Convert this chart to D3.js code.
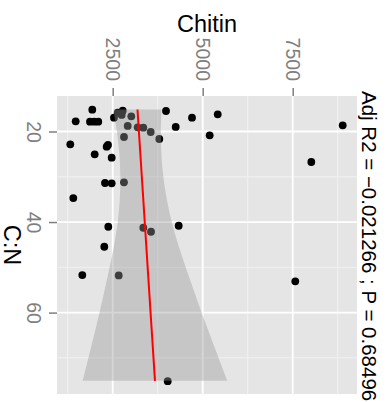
<!DOCTYPE html>
<html>
<head>
<meta charset="utf-8">
<script src="https://cdn.jsdelivr.net/npm/d3@7"></script>
<style>
body { margin: 0; background: #fff; }
svg text { font-family: "Liberation Sans", Arial, Helvetica, sans-serif; }
</style>
</head>
<body>
<div id="graph"></div>
<script>
// data
var pointChitin = [1933, 1472, 1869, 1989, 2100, 2536, 2639, 2778, 2750, 3017,
	2917, 3194, 3350, 3556, 3794, 3981, 4250, 2814, 1322, 2333,
	2369, 2000, 2472, 2286, 2472, 2814, 4703, 5417, 5194, 8017,
	8889, 1406, 2378, 3350, 3564, 2267, 1656, 2667, 4333, 7572, 4028];
var pointCN = [15.18, 17.75, 17.83, 17.83, 17.83, 16.95, 15.85, 15.40, 16.35, 16.64,
	18.78, 19.07, 19.16, 20.11, 21.66, 15.47, 19.00, 21.22, 22.83, 23.36,
	22.98, 25.04, 25.79, 31.38, 31.45, 31.23, 16.95, 16.20, 20.84, 26.74,
	18.63, 34.70, 41.04, 41.26, 42.14, 45.46, 51.71, 51.78, 40.82, 53.10, 75.14];

// fitted line and its confidence band
var fitCN      = [15.14, 20, 25, 30, 35, 40, 45, 50, 55, 60, 65, 70, 75.07];
var fitChitin  = [3189, 3228, 3269, 3309, 3350, 3390, 3431, 3471, 3512, 3552, 3593, 3633, 3675];
var fitLower   = [2522, 2617, 2686, 2712, 2697, 2640, 2542, 2415, 2276, 2135, 1982, 1827, 1667];
var fitUpper   = [3856, 3839, 3852, 3906, 4003, 4140, 4320, 4527, 4748, 4969, 5204, 5439, 5683];

var chitinTicks = [2500, 5000, 7500];
var chitinMinor = [1250, 3750, 6250, 8750];
var cnTicks = [20, 40, 60];
var cnMinor = [30, 50, 70];
var chitinLim = [953, 9286];
var cnLim = [12.16, 77.98];

var titleText = "Adj R2 = \u22120.021266 ; P = 0.68496";

var W = 390, H = 402;
var panel = {left: 57, right: 357, top: 96, bottom: 394};

var svg = d3.select("#graph")
	.append("svg")
	.attr("width", W).attr("height", H);

var x = d3.scaleLinear().domain(chitinLim).range([panel.left, panel.right]);
var y = d3.scaleLinear().domain(cnLim).range([panel.top, panel.bottom]);

svg.append("rect")
	.attr("x", panel.left).attr("y", panel.top)
	.attr("width", panel.right - panel.left)
	.attr("height", panel.bottom - panel.top)
	.attr("fill", "#e5e5e5");

// grid
var grid = svg.append("g");
grid.selectAll("line.vminor").data(chitinMinor).enter().append("line")
	.attr("x1", function(d){ return x(d); }).attr("x2", function(d){ return x(d); })
	.attr("y1", panel.top).attr("y2", panel.bottom)
	.attr("stroke", "#f2f2f2").attr("stroke-width", 1);
grid.selectAll("line.hminor").data(cnMinor).enter().append("line")
	.attr("y1", function(d){ return y(d); }).attr("y2", function(d){ return y(d); })
	.attr("x1", panel.left).attr("x2", panel.right)
	.attr("stroke", "#f2f2f2").attr("stroke-width", 1);
grid.selectAll("line.vmajor").data(chitinTicks).enter().append("line")
	.attr("x1", function(d){ return x(d); }).attr("x2", function(d){ return x(d); })
	.attr("y1", panel.top).attr("y2", panel.bottom)
	.attr("stroke", "#fff").attr("stroke-width", 1.8);
grid.selectAll("line.hmajor").data(cnTicks).enter().append("line")
	.attr("y1", function(d){ return y(d); }).attr("y2", function(d){ return y(d); })
	.attr("x1", panel.left).attr("x2", panel.right)
	.attr("stroke", "#fff").attr("stroke-width", 1.8);

// points
svg.selectAll("circle.pt")
	.data(d3.range(pointCN.length))
	.enter()
	.append("circle")
	.attr("cx", function(i){ return x(pointChitin[i]); })
	.attr("cy", function(i){ return y(pointCN[i]); })
	.attr("r", 3.9)
	.attr("fill", "black");

// band + line
var band = d3.range(fitCN.length);
var area = d3.area()
	.y(function(i){ return y(fitCN[i]); })
	.x0(function(i){ return x(fitLower[i]); })
	.x1(function(i){ return x(fitUpper[i]); })
	.curve(d3.curveCatmullRom);
svg.append("path")
	.attr("d", area(band))
	.attr("fill", "#999999").attr("fill-opacity", 0.4);

var line = d3.line()
	.x(function(i){ return x(fitChitin[i]); })
	.y(function(i){ return y(fitCN[i]); });
svg.append("path")
	.attr("d", line(band))
	.attr("fill", "none").attr("stroke", "red").attr("stroke-width", 2);

// axes
var xAxis = svg.append("g")
	.attr("transform", "translate(0," + panel.top + ")")
	.call(d3.axisTop(x).tickValues(chitinTicks).tickSize(8).tickFormat(d3.format("d")));
var yAxis = svg.append("g")
	.attr("transform", "translate(" + panel.left + ",0)")
	.call(d3.axisLeft(y).tickValues(cnTicks).tickSize(8));

[xAxis, yAxis].forEach(function(a){
	a.select(".domain").remove();
	a.selectAll(".tick line").attr("stroke", "#7f7f7f").attr("stroke-width", 1.5);
	a.selectAll(".tick text")
		.attr("fill", "#7f7f7f")
		.attr("font-size", "19.5px")
		.attr("x", 0).attr("y", 0);
});
xAxis.selectAll(".tick text")
	.attr("text-anchor", "end")
	.attr("dy", "0.35em")
	.attr("transform", "translate(0,-15) rotate(90)");
yAxis.selectAll(".tick text")
	.attr("text-anchor", "middle")
	.attr("dy", "0")
	.attr("transform", "translate(-30,0) rotate(90)");

// titles
svg.append("text")
	.attr("x", (panel.left + panel.right) / 2).attr("y", 32)
	.attr("text-anchor", "middle")
	.attr("font-size", "23.5px")
	.text("Chitin");
svg.append("text")
	.attr("transform", "translate(3.5," + (panel.top + panel.bottom) / 2 + ") rotate(90)")
	.attr("text-anchor", "middle")
	.attr("font-size", "23.5px")
	.text("C:N");
svg.append("text")
	.attr("transform", "translate(362,91) rotate(90)")
	.attr("text-anchor", "start")
	.attr("font-size", "20.5px")
	.text(titleText);
</script>
</body>
</html>
